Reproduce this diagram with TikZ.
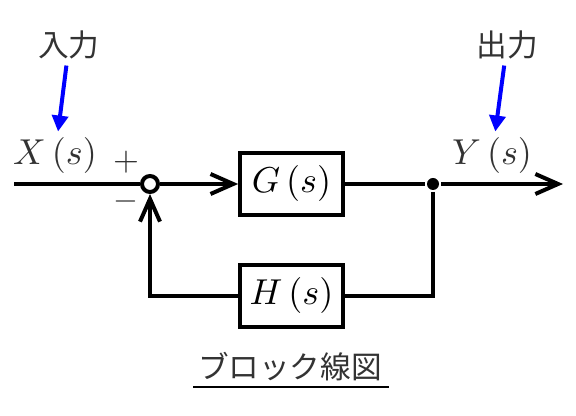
\documentclass[tikz,border=0pt]{standalone}
\usepackage{fontspec}
\usepackage{graphicx}
\usepackage{tikz}
\usepackage{xcolor}
\usetikzlibrary{arrows.meta}
\newfontfamily\jpfont{Noto Sans CJK JP}
\definecolor{labelgray}{HTML}{333333}
\newcommand{\bigmath}[1]{\scalebox{2.7}{$#1$}}
\tikzstyle{blk} = [rectangle, draw, fill=white, minimum width=77pt, minimum height=47pt, inner sep=0pt]
\tikzstyle{sumpt} = [circle, draw, fill=white, minimum size=12pt, inner sep=0pt]
\tikzstyle{branch} = [circle, fill=black, minimum size=9pt, inner sep=0pt]
\tikzstyle{sig} = [text=labelgray]
\tikzstyle{sign} = [text=labelgray]
\tikzstyle{jp} = [text=labelgray, font=\fontsize{23}{28}\selectfont\jpfont]
\tikzstyle{pointer} = [blue, line width=3pt, -{Triangle[length=12pt,width=12pt]}]

\begin{document}
\begin{tikzpicture}[x=0.75pt,y=-0.75pt,line width=3pt,>={Straight Barb[length=17pt,width=15pt]}]
  \useasboundingbox (0,0) rectangle (576,416);
  \coordinate (in) at (14,184);
  \node[sumpt] (sum) at (150,184) {};
  \node[blk] (G) at (291.5,184) {\bigmath{G\,(s)}};
  \node[branch] (dot) at (433,184) {};
  \coordinate (out) at (563,184);
  \node[blk] (H) at (291.5,296) {\bigmath{H\,(s)}};

  \node[sig] (X) at (55,156) {\bigmath{X\,(s)}};
  \node[sig] (Y) at (492,156) {\bigmath{Y\,(s)}};
  \node[sign] (plus) at (126,162) {\scalebox{2.5}{$+$}};
  \node[sign] (minus) at (126,202) {\scalebox{2.4}{$-$}};
  \node[jp] (inlbl) at (69,45) {入力};
  \node[jp] (outlbl) at (507,45) {出力};
  \node[jp, inner sep=0pt, anchor=base] (title) at (290,379) {ブロック線図};

  \draw (in) -- (sum);
  \draw[->] (sum) -- (G);
  \draw (G) -- (dot);
  \draw[->] (dot) -- (out);
  \draw (dot) |- (H);
  \draw[->] (H) -| (sum);

  \draw[pointer] (inlbl) -- (X);
  \draw[pointer] (outlbl) -- (Y);
  \draw[line width=1.5pt] ([xshift=-2pt,yshift=-3pt]title.south west) -- ([xshift=4pt,yshift=-3pt]title.south east);
\end{tikzpicture}
\end{document}
